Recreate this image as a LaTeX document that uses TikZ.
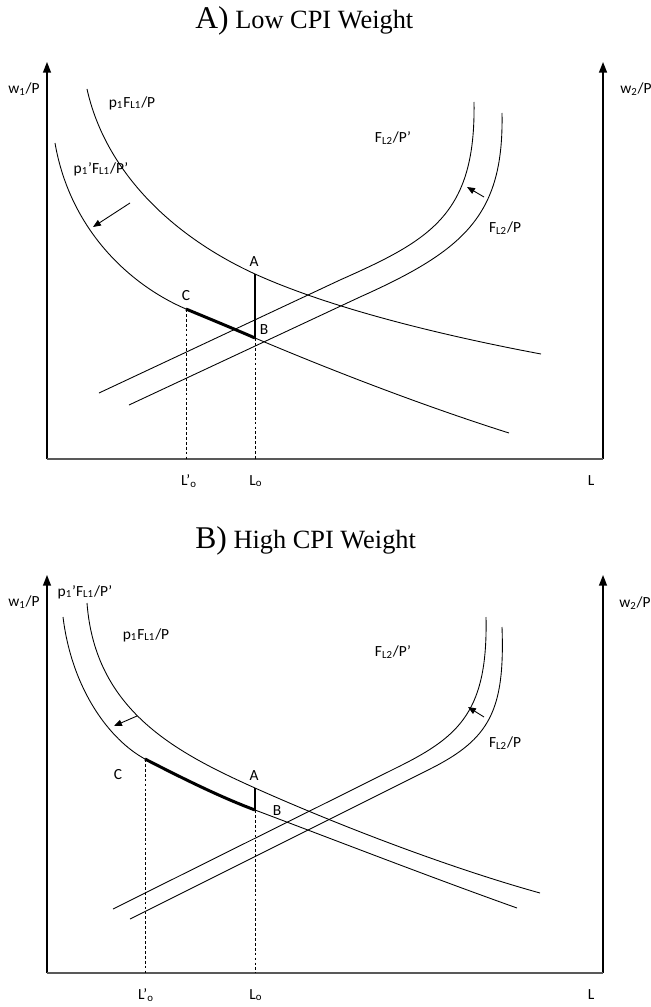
\documentclass[tikz,border=0pt]{standalone}
\usepackage{fontspec}
\setmainfont{Liberation Serif}
\newfontfamily\lblfont{Carlito}
\usetikzlibrary{arrows.meta}

\begin{document}
\begin{tikzpicture}[x=0.02cm, y=-0.02cm,
		lbl/.style={font=\lblfont\fontsize{8.8}{10}\selectfont, inner sep=0pt},
		ttl/.style={font=\fontsize{15}{18}\selectfont, anchor=base west, inner sep=0pt},
		crv/.style={line width=0.5pt},
		axis/.style={line width=0.8pt},
		guide/.style={line width=0.4pt, dash pattern=on 1.6pt off 1.2pt},
		seg/.style={line width=1.7pt},
		shft/.style={line width=0.5pt, -{Triangle[length=4.5pt,width=3.6pt]}}]
		\useasboundingbox (0,0) rectangle (651,1007);

		% A) Low CPI Weight
		\node[ttl] (titleA) at (195,29) {{\fontsize{18}{20}\selectfont A)} Low CPI Weight};
		\coordinate (oA) at (47,459);
		\coordinate (eA) at (603,459);
		\draw[axis, -{Triangle[length=6pt,width=4.5pt]}] (oA) -- (47,62);
		\draw[axis, -{Triangle[length=6pt,width=4.5pt]}] (eA) -- (603,62);
		\draw[line width=1pt, black!65] (oA) -- (eA);
		\node[lbl] (w1A) at (24,89) {w\textsubscript{1}/P};
		\node[lbl] (w2A) at (636,89) {w\textsubscript{2}/P};

		\coordinate (aA) at (255,274);
		\coordinate (bA) at (255,338);
		\coordinate (cA) at (186,309);
		\draw[crv] (87,89) .. controls (105,170) and (170,235) .. (aA) .. controls (330,308) and (440,335) .. (541,354);
		\draw[crv] (55,143) .. controls (70,230) and (130,285) .. (cA) .. controls (210,319) and (232,328) .. (bA) .. controls (340,374) and (430,408) .. (509,433);
		\draw[crv] (99,393) -- (340,280) .. controls (430,240) and (476,215) .. (474,102);
		\draw[crv] (129,405) -- (360,297) .. controls (465,250) and (504,215) .. (502,113);
		\draw[shft] (130,203) -- (93,227);
		\draw[shft] (484,197) -- (467,187);

		\draw[guide] (cA) -- (cA |- oA);
		\draw[guide] (bA) -- (bA |- oA);
		\draw[seg] (aA) -- (bA);
		\draw[seg] (cA) .. controls (210,319) and (232,328) .. (bA);

		\node[lbl] (p1A) at (132,103) {p\textsubscript{1}F\textsubscript{L1}/P};
		\node[lbl] (p1pA) at (101,169) {p\textsubscript{1}’F\textsubscript{L1}/P’};
		\node[lbl] (f2pA) at (393,138) {F\textsubscript{L2}/P’};
		\node[lbl] (f2A) at (505,228) {F\textsubscript{L2}/P};
		\node[lbl] (labA) at (254,262) {A};
		\node[lbl] (labB) at (264,330) {B};
		\node[lbl] (labC) at (186,296) {C};
		\node[lbl] (LpA) at (189,481) {L’\textsubscript{o}};
		\node[lbl] (LoA) at (256,481) {L\textsubscript{o}};
		\node[lbl] (LA) at (591,481) {L};

		% B) High CPI Weight
		\node[ttl] (titleB) at (195,548) {{\fontsize{18}{20}\selectfont B)} High CPI Weight};
		\coordinate (oB) at (47,973);
		\coordinate (eB) at (603,973);
		\draw[axis, -{Triangle[length=6pt,width=4.5pt]}] (oB) -- (47,575);
		\draw[axis, -{Triangle[length=6pt,width=4.5pt]}] (eB) -- (603,575);
		\draw[line width=1pt, black!65] (oB) -- (eB);
		\node[lbl] (w1B) at (24,602) {w\textsubscript{1}/P};
		\node[lbl] (w2B) at (635,603) {w\textsubscript{2}/P};

		\coordinate (aB) at (255,788);
		\coordinate (bB) at (255,810);
		\coordinate (cB) at (145,759);
		\draw[crv] (87,603) .. controls (95,710) and (175,752) .. (aB) .. controls (340,826) and (450,868) .. (540,893);
		\draw[crv] (63,617) .. controls (72,690) and (110,740) .. (cB) .. controls (180,777) and (220,797) .. (bB) .. controls (340,842) and (430,877) .. (517,908);
		\draw[crv] (113,909) -- (400,766) .. controls (460,736) and (488,710) .. (486,617);
		\draw[crv] (130,919) -- (430,769) .. controls (490,739) and (505,710) .. (502,627);
		\draw[shft] (137,716) -- (114,726);
		\draw[shft] (484,717) -- (468,707);

		\draw[guide] (cB) -- (cB |- oB);
		\draw[guide] (bB) -- (bB |- oB);
		\draw[seg] (aB) -- (bB);
		\draw[seg] (cB) .. controls (180,777) and (220,797) .. (bB);

		\node[lbl] (p1pB) at (85,592) {p\textsubscript{1}’F\textsubscript{L1}/P’};
		\node[lbl] (p1B) at (146,635) {p\textsubscript{1}F\textsubscript{L1}/P};
		\node[lbl] (f2pB) at (393,652) {F\textsubscript{L2}/P’};
		\node[lbl] (f2B) at (505,743) {F\textsubscript{L2}/P};
		\node[lbl] (labAB) at (254,776) {A};
		\node[lbl] (labBB) at (277,811) {B};
		\node[lbl] (labCB) at (118,775) {C};
		\node[lbl] (LpB) at (146,995) {L’\textsubscript{o}};
		\node[lbl] (LoB) at (256,995) {L\textsubscript{o}};
		\node[lbl] (LB) at (591,995) {L};
	\end{tikzpicture}
\end{document}
